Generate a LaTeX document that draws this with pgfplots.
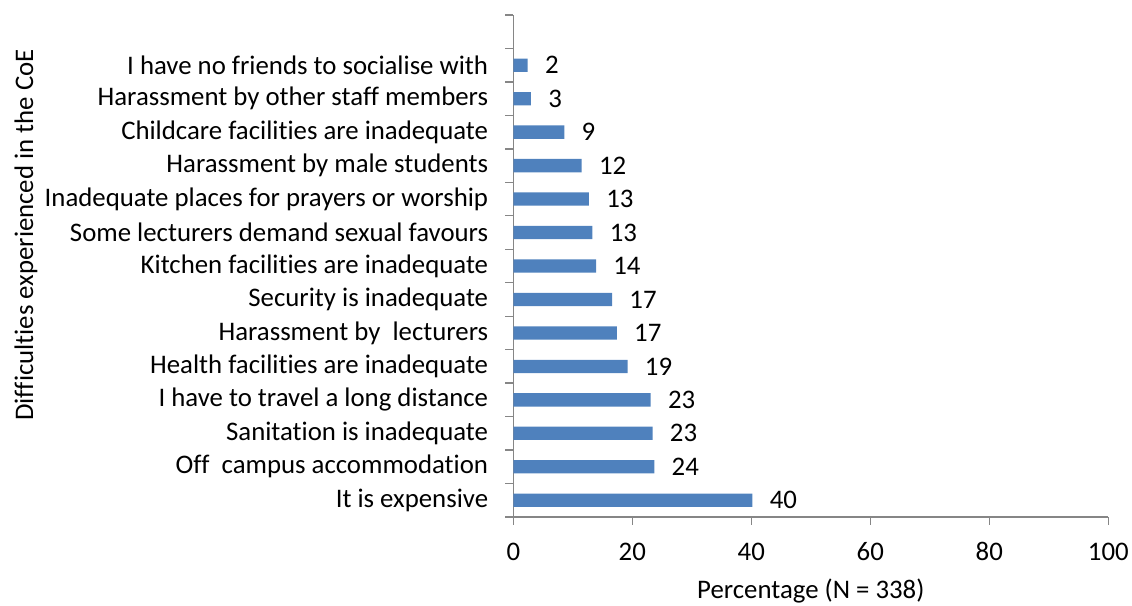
\documentclass[border=0pt]{standalone}
\usepackage{fontspec}
\setmainfont{Carlito}[Ligatures=NoCommon]
\usepackage{pgfplots}
\usepackage{pgfplotstable}
\pgfplotsset{compat=1.18}
\definecolor{barblue}{HTML}{4F81BD}
\definecolor{axgray}{HTML}{868686}
\pgfplotstableread{
i v l
0 40.2 40
1 23.7 24
2 23.4 23
3 23.1 23
4 19.2 19
5 17.4 17
6 16.6 17
7 13.9 14
8 13.3 13
9 12.7 13
10 11.5 12
11 8.57 9
12 2.97 3
13 2.42 2
}\datatable
\begin{document}
\fontsize{13.4pt}{15pt}\selectfont
\begin{tikzpicture}
\begin{axis}[name=ax, scale only axis, width=297.5pt, height=251pt,
  xbar, bar width=6.65pt,
  xmin=0, xmax=100, ymin=-0.5, ymax=14.5,
  axis lines*=left,
  axis line style={axgray, line width=0.65pt},
  tick style={axgray, line width=0.65pt},
  tick align=outside,
  major tick length=3.8pt, minor tick length=4pt,
  xtick={0,20,...,100},
  ytick={0,...,13},
  minor ytick={-0.5,0.5,...,14.5},
  major y tick style={draw=none},
  yticklabels={It is expensive, Off\ \ campus accommodation, Sanitation is inadequate, I have to travel a long distance, Health facilities are inadequate, Harassment by\ \ lecturers, Security is inadequate, Kitchen facilities are inadequate, Some lecturers demand sexual favours, Inadequate places for prayers or worship, Harassment by male students, Childcare facilities are inadequate, Harassment by other staff members, I have no friends to socialise with},
  /pgf/number format/assume math mode=true,
  xticklabel style={anchor=base, inner sep=0pt, yshift=-17.8pt, text=black},
  yticklabel style={anchor=east, inner sep=0pt, xshift=-8.6pt, text=black},
  xlabel={Percentage (N = 338)},
  ylabel={Difficulties experienced in the CoE},
  xlabel style={at={(axis description cs:0.5,-0.1633)}, anchor=base, inner sep=0pt},
  ylabel style={at={(axis description cs:-0.807,0.5618)}, anchor=base, inner sep=0pt},
  clip=false,
]
\addplot[fill=barblue, draw=none, nodes near coords, point meta=explicit symbolic,
  nodes near coords style={anchor=west, inner sep=0pt, xshift=8.5pt, text=black}]
  table[x=v, y=i, meta=l] {\datatable};
\end{axis}
\pgfresetboundingbox
\path[use as bounding box] ([shift={(-256.65pt,-44pt)}]ax.south west) rectangle ([shift={(11.85pt,7.5pt)}]ax.north east);
\end{tikzpicture}
\end{document}
